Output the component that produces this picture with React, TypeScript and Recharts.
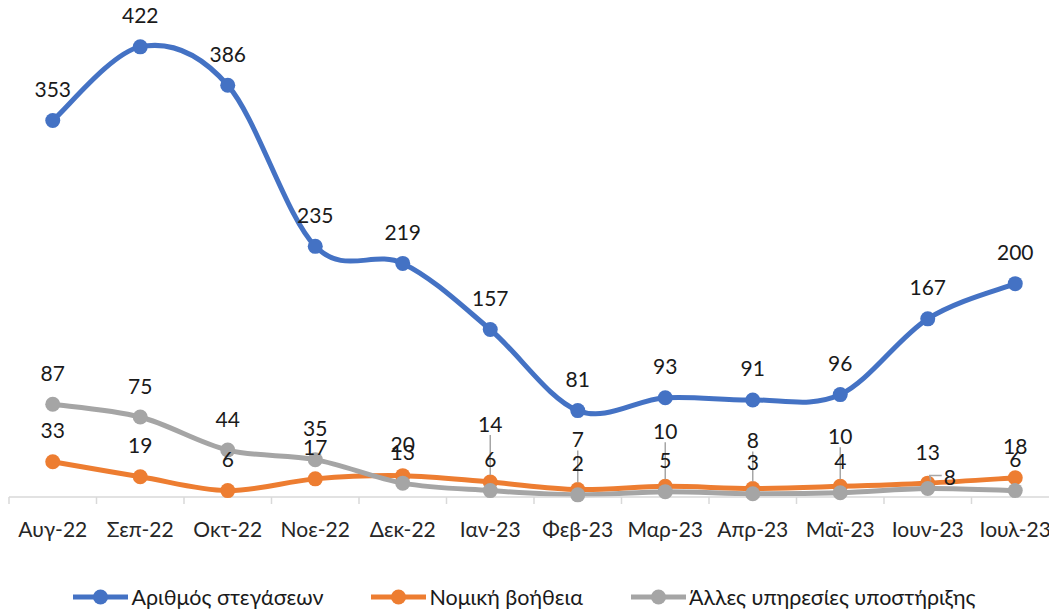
import React from 'react';
import { LineChart, Line, XAxis, YAxis, LabelList } from 'recharts';

const months = ['Αυγ-22', 'Σεπ-22', 'Οκτ-22', 'Νοε-22', 'Δεκ-22', 'Ιαν-23', 'Φεβ-23', 'Μαρ-23', 'Απρ-23', 'Μαϊ-23', 'Ιουν-23', 'Ιουλ-23'];
const housing = [353, 422, 386, 235, 219, 157, 81, 93, 91, 96, 167, 200];
const legalAid = [33, 19, 6, 17, 20, 14, 7, 10, 8, 10, 13, 18];
const otherSupport = [87, 75, 44, 35, 13, 6, 2, 5, 3, 4, 8, 6];

const seriesNames = ['Αριθμός στεγάσεων', 'Νομική βοήθεια', 'Άλλες υπηρεσίες υποστήριξης'];
const colors = ['#4472C4', '#ED7D31', '#A5A5A5'];

const FONT = 'Lato, "Open Sans", sans-serif';

// labels moved by hand in the original (to stop overlaps)
const legalShifts: Record<string, { dx: number; dy: number }> = {
  'Ιαν-23': { dx: 0, dy: -27 },
  'Φεβ-23': { dx: 0, dy: -19 },
  'Μαρ-23': { dx: 0, dy: -24 },
  'Απρ-23': { dx: 0, dy: -17 },
  'Μαϊ-23': { dx: 0, dy: -19 },
};
const otherShifts: Record<string, { dx: number; dy: number }> = {
  'Ιουν-23': { dx: 22, dy: 20 },
};

const data = months.map((m, i) => ({
  month: m,
  housing: housing[i],
  legalAid: legalAid[i],
  otherSupport: otherSupport[i],
}));

// Excel-like smoothed line (Catmull-Rom, bezier control points at 1/6)
const excelCurve = (context: any) => {
  let pts: number[][] = [];
  return {
    areaStart() {},
    areaEnd() {},
    lineStart() {
      pts = [];
    },
    point(x: number, y: number) {
      pts.push([+x, +y]);
    },
    lineEnd() {
      if (!pts.length) return;
      context.moveTo(pts[0][0], pts[0][1]);
      for (let i = 0; i < pts.length - 1; i++) {
        const p0 = pts[i - 1] || pts[i];
        const p1 = pts[i];
        const p2 = pts[i + 1];
        const p3 = pts[i + 2] || p2;
        context.bezierCurveTo(
          p1[0] + (p2[0] - p0[0]) / 6,
          p1[1] + (p2[1] - p0[1]) / 6,
          p2[0] - (p3[0] - p1[0]) / 6,
          p2[1] - (p3[1] - p1[1]) / 6,
          p2[0],
          p2[1]
        );
      }
    },
  };
};

const makeLabel = (shifts: Record<string, { dx: number; dy: number }>) => (props: any) => {
  const { x, y, value, index } = props;
  const s = shifts[months[index]] || { dx: 0, dy: 0 };
  const lx = x + s.dx;
  const ly = y - 32 + s.dy;
  let leader = null;
  if (s.dx !== 0) {
    leader = (
      <path
        d={`M${lx - 8},${ly - 1} H${lx - 20} L${x + 3},${y - 8}`}
        fill="none"
        stroke="#A6A6A6"
        strokeWidth={1.5}
      />
    );
  } else if (s.dy < 0) {
    leader = <line x1={x} x2={x} y1={ly + 12} y2={y - 7} stroke="#A6A6A6" strokeWidth={1.5} />;
  }
  return (
    <g>
      {leader}
      <text
        x={lx}
        y={ly}
        textAnchor="middle"
        dominantBaseline="central"
        fill="#1a1a1a"
        fontSize={21}
        fontFamily={FONT}
      >
        {value}
      </text>
    </g>
  );
};

const AxisTick = (props: any) => {
  const { x, y, payload, index, visibleTicksCount } = props;
  const half = payload.offset || 0;
  const axisY = y - 8;
  return (
    <g>
      <line x1={x - half} x2={x - half} y1={axisY} y2={axisY + 7} stroke="#D9D9D9" strokeWidth={1.5} />
      {index === visibleTicksCount - 1 && (
        <line x1={x + half} x2={x + half} y1={axisY} y2={axisY + 7} stroke="#D9D9D9" strokeWidth={1.5} />
      )}
      <text
        x={x}
        y={axisY + 31}
        textAnchor="middle"
        dominantBaseline="central"
        fill="#262626"
        fontSize={21}
        fontFamily={FONT}
      >
        {payload.value}
      </text>
    </g>
  );
};

const LegendIcon = ({ color }: { color: string }) => (
  <svg width={55} height={16} style={{ display: 'block' }}>
    <line x1={0} x2={55} y1={8} y2={8} stroke={color} strokeWidth={5} />
    <circle cx={27.5} cy={8} r={7.5} fill={color} />
  </svg>
);

export default function App() {
  const keys = ['housing', 'legalAid', 'otherSupport'];
  return (
    <div
      style={{
        position: 'fixed',
        top: 0,
        left: 0,
        width: 1049,
        height: 609,
        overflow: 'hidden',
        background: '#fff',
      }}
    >
      <LineChart width={1060} height={609} data={data} margin={{ top: 17, right: 1, bottom: 72, left: 9 }}>
        <XAxis
          dataKey="month"
          scale="band"
          height={40}
          axisLine={{ stroke: '#D9D9D9', strokeWidth: 1.5 }}
          tickLine={false}
          tick={<AxisTick />}
          interval={0}
        />
        <YAxis hide domain={[0, 450]} />
        {keys.map((k, i) => (
          <Line
            key={k}
            dataKey={k}
            name={seriesNames[i]}
            type={excelCurve as any}
            stroke={colors[i]}
            strokeWidth={5}
            dot={{ r: 7.5, fill: colors[i], stroke: 'none' }}
            activeDot={false}
            isAnimationActive={false}
          >
            <LabelList
              dataKey={k}
              content={makeLabel(i === 1 ? legalShifts : i === 2 ? otherShifts : {})}
            />
          </Line>
        ))}
      </LineChart>
      <div
        style={{
          position: 'absolute',
          top: 584,
          left: 0,
          width: 1049,
          display: 'flex',
          justifyContent: 'center',
          gap: 48,
          fontFamily: FONT,
          fontSize: 21.5,
          color: '#1a1a1a',
        }}
      >
        {seriesNames.map((n, i) => (
          <div key={n} style={{ display: 'flex', alignItems: 'center', gap: 3 }}>
            <LegendIcon color={colors[i]} />
            <span>{n}</span>
          </div>
        ))}
      </div>
    </div>
  );
}
